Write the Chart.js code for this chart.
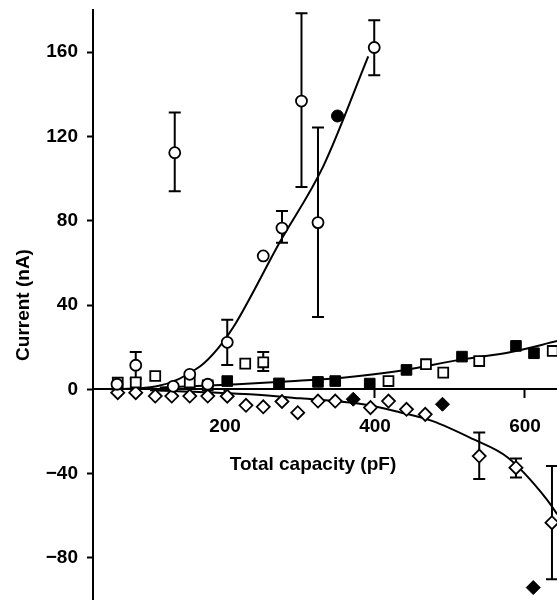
<!DOCTYPE html>
<html><head><meta charset="utf-8">
<script src="https://cdn.jsdelivr.net/npm/chart.js@4/dist/chart.umd.min.js"></script>
<style>html,body{margin:0;padding:0;background:#fff;}</style>
</head><body>
<canvas id="c" width="557" height="600"></canvas>
<script>
// ---- tick labels & titles ----
const xTickValues = [200, 400, 600];
const yTickValues = [-80, -40, 0, 40, 80, 120, 160];
const xTitle = 'Total capacity (pF)';
const yTitle = 'Current (nA)';

// ---- open circles (with some error bars) ----
const openCircleX    = [56, 81, 131, 133, 153, 177, 203, 251, 276, 302, 324, 399];
const openCircleY    = [2.4, 11.4, 1.4, 112.3, 7.1, 2.4, 22.3, 63.3, 76.5, 136.8, 79.1, 162.2];
const openCircleLow  = [null, 5.0, null, 94.0, null, null, 11.5, null, 69.5, 96.0, 34.3, 149.0];
const openCircleHigh = [null, 17.7, null, 131.3, null, null, 33.0, null, 84.6, 178.4, 124.2, 175.1];

// ---- filled circle ----
const filledCircleX = [350];
const filledCircleY = [129.7];

// ---- fitted curve through circles ----
const circleFitX = [47, 109, 167, 191, 211, 273, 331, 391];
const circleFitY = [0, 1.4, 10.9, 19.5, 29.4, 69.8, 105.8, 158];

// ---- open squares ----
const openSquareX    = [57, 81, 107, 153, 177, 227, 251, 418, 468, 491, 539, 637];
const openSquareY    = [3.2, 3.3, 6.3, 3.3, 1.9, 12.2, 12.8, 3.9, 11.9, 7.9, 13.4, 18.2];
const openSquareLow  = [null, null, null, null, null, null, 8.7, null, null, null, null, null];
const openSquareHigh = [null, null, null, null, null, null, 17.7, null, null, null, null, null];

// ---- filled squares ----
const filledSquareX = [203, 272, 324, 347, 393, 442, 516, 588, 612];
const filledSquareY = [3.9, 2.8, 3.5, 3.9, 2.7, 9.2, 15.5, 20.6, 17.1];

// ---- fitted curve through squares ----
const squareFitX = [113, 217, 287, 360, 427, 516, 580, 643];
const squareFitY = [0.9, 2.4, 3.8, 5.6, 8.4, 14.2, 17.6, 22.9];

// ---- open diamonds ----
const openDiamondX    = [57, 81, 107, 129, 153, 177, 203, 228, 251, 276, 297, 324, 347, 394, 418, 442, 467, 539, 588, 636];
const openDiamondY    = [-1.6, -1.6, -3.2, -3.2, -3.2, -3.2, -3.3, -7.6, -8.3, -5.8, -11.1, -5.6, -5.6, -8.7, -5.6, -9.5, -11.9, -31.7, -37.2, -63.3];
const openDiamondLow  = [null, null, null, null, null, null, null, null, null, null, null, null, null, null, null, null, null, -42.6, -41.9, -90.2];
const openDiamondHigh = [null, null, null, null, null, null, null, null, null, null, null, null, null, null, null, null, null, -20.5, -32.9, -36.4];

// ---- filled diamonds ----
const filledDiamondX = [371, 490, 611];
const filledDiamondY = [-4.7, -7.1, -94.1];

// ---- fitted curve through diamonds ----
const diamondFitX = [100, 233, 300, 384, 433, 476, 531, 577, 629, 643];
const diamondFitY = [-0.5, -2.4, -4.3, -7.1, -10.9, -15.0, -23.7, -32.4, -52.2, -59.3];

const pts = (xs, ys) => xs.map((x, i) => ({x: x, y: ys[i]}));

const FAMILY = '"Liberation Sans", Arial, Helvetica, sans-serif';
const FONT = {family: FAMILY, size: 19, weight: 'bold'};

const errorBars = {
  id: 'errorBars',
  beforeDatasetsDraw(chart) {
    const ctx = chart.ctx, xs = chart.scales.x, ys = chart.scales.y;
    ctx.save();
    ctx.strokeStyle = '#000';
    ctx.lineWidth = 2;
    chart.data.datasets.forEach(ds => {
      if (!ds.errLow) return;
      ds.data.forEach((p, i) => {
        const lo = ds.errLow[i], hi = ds.errHigh[i];
        if (lo == null || hi == null) return;
        const px = xs.getPixelForValue(p.x);
        const y1 = ys.getPixelForValue(lo), y2 = ys.getPixelForValue(hi);
        ctx.beginPath();
        ctx.moveTo(px, y1); ctx.lineTo(px, y2);
        ctx.moveTo(px - 6, y1); ctx.lineTo(px + 6, y1);
        ctx.moveTo(px - 6, y2); ctx.lineTo(px + 6, y2);
        ctx.stroke();
      });
    });
    ctx.restore();
  }
};

// x-axis title placed in the lower part of the plot, as in the original figure
const xTitlePlugin = {
  id: 'xTitlePlugin',
  afterDraw(chart) {
    const ctx = chart.ctx, ys = chart.scales.y;
    ctx.save();
    ctx.fillStyle = '#000';
    ctx.font = 'bold 19px ' + FAMILY;
    ctx.textAlign = 'center';
    ctx.textBaseline = 'middle';
    ctx.fillText(xTitle, 313, ys.getPixelForValue(0) + 75);
    ctx.restore();
  }
};

const marker = (data, style, radius, filled, extra) => Object.assign({
  data: data, showLine: false, pointStyle: style, pointRadius: radius, pointHoverRadius: radius,
  pointBackgroundColor: filled ? '#000' : '#fff', pointBorderColor: '#000',
  pointBorderWidth: filled ? 1 : 1.8, order: 0
}, extra || {});

const curve = (data) => ({
  data: data, showLine: true, pointRadius: 0, borderColor: '#000', borderWidth: 2,
  cubicInterpolationMode: 'monotone', fill: false, order: 1
});

const zeroPad = s => { s.paddingLeft = 0; s.paddingRight = 0; s.paddingTop = 0; s.paddingBottom = 0; };

new Chart(document.getElementById('c'), {
  type: 'scatter',
  data: {
    datasets: [
      marker(pts(openCircleX, openCircleY), 'circle', 5.5, false, {errLow: openCircleLow, errHigh: openCircleHigh}),
      marker(pts(filledCircleX, filledCircleY), 'circle', 6, true),
      marker(pts(openSquareX, openSquareY), 'rect', 7, false, {errLow: openSquareLow, errHigh: openSquareHigh}),
      marker(pts(filledSquareX, filledSquareY), 'rect', 7.5, true),
      marker(pts(openDiamondX, openDiamondY), 'rectRot', 6.5, false, {errLow: openDiamondLow, errHigh: openDiamondHigh}),
      marker(pts(filledDiamondX, filledDiamondY), 'rectRot', 7, true),
      curve(pts(circleFitX, circleFitY)),
      curve(pts(squareFitX, squareFitY)),
      curve(pts(diamondFitX, diamondFitY))
    ]
  },
  options: {
    responsive: false, animation: false, devicePixelRatio: 1,
    events: [],
    layout: {autoPadding: false, padding: {top: 10, right: 0, bottom: 0, left: 0}},
    plugins: {legend: {display: false}, tooltip: {enabled: false}},
    scales: {
      x: {
        type: 'linear', min: 24, max: 642.7, position: {y: 0},
        afterBuildTicks: s => { s.ticks = xTickValues.map(v => ({value: v})); },
        afterFit: zeroPad,
        grid: {drawOnChartArea: false, drawTicks: true, tickLength: 8, tickColor: '#000', tickWidth: 2},
        border: {display: true, color: '#000', width: 2},
        ticks: {color: '#000', font: FONT, padding: 18, maxRotation: 0, autoSkip: false},
        title: {display: false, text: xTitle}
      },
      y: {
        type: 'linear', min: -100, max: 180, position: 'left',
        afterBuildTicks: s => { s.ticks = yTickValues.map(v => ({value: v})); },
        afterFit: s => { zeroPad(s); s.width = 93; },
        grid: {drawOnChartArea: false, drawTicks: true, tickLength: 6, tickColor: '#000', tickWidth: 2},
        border: {display: true, color: '#000', width: 2},
        ticks: {color: '#000', font: FONT, padding: 9, autoSkip: false,
                callback: v => (v < 0 ? '\u2212' + Math.abs(v) : String(v))},
        title: {display: true, text: yTitle, color: '#000', font: FONT, padding: {top: 12, bottom: 0}}
      }
    }
  },
  plugins: [errorBars, xTitlePlugin]
});
</script>
</body></html>
